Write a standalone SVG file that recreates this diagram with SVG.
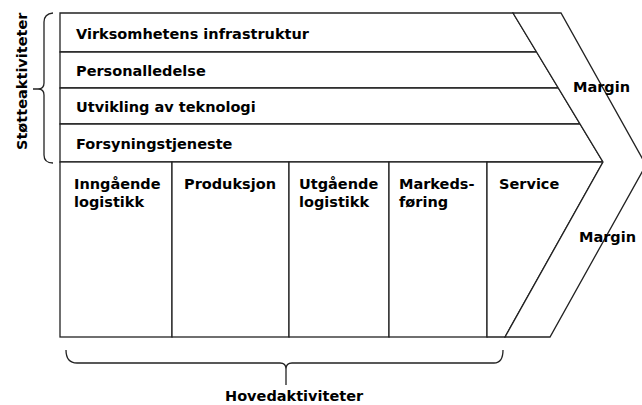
<svg xmlns="http://www.w3.org/2000/svg" width="642" height="405" viewBox="0 0 642 405">
<style>
.box{fill:#fff;stroke:#222;stroke-width:1.3;stroke-linejoin:miter}
.ln{fill:none;stroke:#222;stroke-width:1.3}
text{font-family:"DejaVu Sans","Liberation Sans",sans-serif;font-weight:bold;font-size:14.5px;fill:#000}
</style>
<rect width="642" height="405" fill="#fff"/>
<g id="infrastruktur">
<polygon class="box" points="60,13 513,13 536.6,52 60,52"/>
<text x="76" y="39">Virksomhetens infrastruktur</text>
</g>
<g id="personalledelse">
<polygon class="box" points="60,52 536.6,52 558.3,88 60,88"/>
<text x="76" y="76">Personalledelse</text>
</g>
<g id="teknologi">
<polygon class="box" points="60,88 558.3,88 580,124 60,124"/>
<text x="76" y="112">Utvikling av teknologi</text>
</g>
<g id="forsyning">
<polygon class="box" points="60,124 580,124 603,162 60,162"/>
<text x="76" y="149">Forsyningstjeneste</text>
</g>
<g id="inngaende">
<rect class="box" x="60" y="162" width="112" height="175"/>
<text x="74" y="189">Inngående</text>
<text x="74" y="207">logistikk</text>
</g>
<g id="produksjon">
<rect class="box" x="172" y="162" width="117" height="175"/>
<text x="184" y="189">Produksjon</text>
</g>
<g id="utgaende">
<rect class="box" x="289" y="162" width="100" height="175"/>
<text x="299" y="189">Utgående</text>
<text x="299" y="207">logistikk</text>
</g>
<g id="markedsforing">
<rect class="box" x="389" y="162" width="98" height="175"/>
<text x="399" y="189">Markeds-</text>
<text x="399" y="207">føring</text>
</g>
<g id="service">
<polygon class="box" points="487,162 603,162 505,337 487,337"/>
<text x="499" y="189">Service</text>
</g>
<g id="margin">
<polygon class="box" points="513,13 561,13 646,165 550,337 505,337 603,162"/>
<text x="573" y="92">Margin</text>
<text x="579" y="242">Margin</text>
</g>
<g id="stotteaktiviteter">
<text transform="translate(27,150) rotate(-90)">Støtteaktiviteter</text>
</g>
<g id="hovedaktiviteter">
<text x="225" y="401">Hovedaktiviteter</text>
</g>
<g id="connectors">
<path class="ln" d="M53,13 Q44,14 44,22 L44,83 Q44,89 38,89 Q44,89 44,95 L44,155 Q44,163 53,163 M38,89 L33,89"/>
<path class="ln" d="M66,350 Q66,363 77,363 L280,363 Q286,363 286,369 Q286,363 292,363 L494,363 Q503,363 503,350 M286,369 L286,385"/>
</g>
</svg>
